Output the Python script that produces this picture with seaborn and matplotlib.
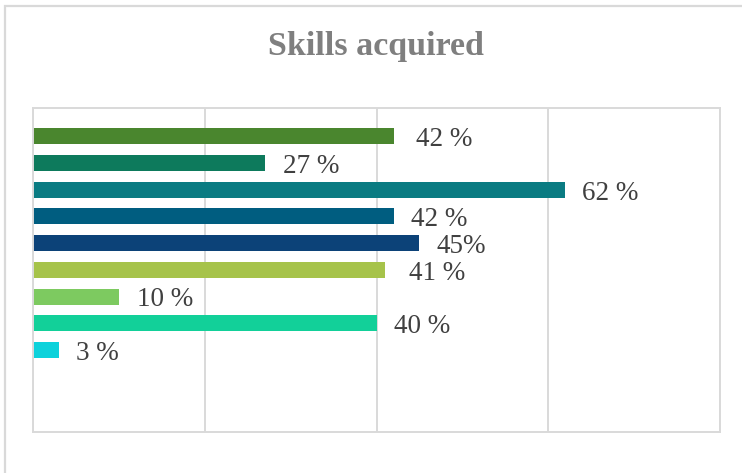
import matplotlib
matplotlib.use("Agg")
import matplotlib.pyplot as plt
import seaborn as sns
from matplotlib.patches import Rectangle

# chart data
skills = ["Skill 1", "Skill 2", "Skill 3", "Skill 4", "Skill 5",
          "Skill 6", "Skill 7", "Skill 8", "Skill 9"]
percent = [42, 27, 62, 42, 45, 41, 10, 40, 3]
value_labels = ["42 %", "27 %", "62 %", "42 %", "45%", "41 %", "10 %", "40 %", "3 %"]
x_ticks = [0, 20, 40, 60, 80]

bar_colors = ["#4A862E", "#0D7A5C", "#0A7B82", "#005D80", "#0C4278",
              "#A6C34A", "#7DCA60", "#12D099", "#0DD2DB"]
# extra gap (px) between bar end and its label, Excel labels were nudged by hand
label_gap = [22, 18, 17, 17, 17, 24, 18, 18, 17]

sns.set_theme(style="white")
plt.rcParams['font.family'] = ['Liberation Serif', 'DejaVu Serif']

fig = plt.figure(figsize=(7.42, 4.73), dpi=100)
ax = fig.add_axes([33 / 742, 1 - 431.7 / 473, (720 - 33) / 742, (431.7 - 107.7) / 473])

sns.barplot(x=percent, y=skills, hue=skills, palette=bar_colors, orient="h",
            width=0.6, legend=False, saturation=1, ax=ax, edgecolor="none")

ax.set_xlim(x_ticks[0], x_ticks[-1])
ax.set_ylim(11.06, -1.07)
ax.set_xticks(x_ticks)
ax.set_yticks([])
ax.tick_params(axis="x", length=0, labelbottom=False)
ax.set_xlabel("")
ax.set_ylabel("")
ax.grid(axis="x", color="#D9D9D9", linewidth=1.4)
ax.set_axisbelow(True)
for sp in ax.spines.values():
    sp.set_visible(True)
    sp.set_color("#D9D9D9")
    sp.set_linewidth(1.4)

px = (x_ticks[-1] - x_ticks[0]) / (720 - 33)
for i, (v, lab) in enumerate(zip(percent, value_labels)):
    ax.text(v + label_gap[i] * px, i + 0.37, lab, fontsize=19.5, color="#404040",
            va="baseline", ha="left")

fig.text(0.506, 1 - 55 / 473, "Skills acquired", ha="center", va="baseline",
         fontsize=24.5, fontweight="bold", color="#7F7F7F")

# outer chart frame (only left/top edges visible in the crop)
fig.patches.append(Rectangle((5 / 742, -0.1), 1.2, 1 - 6 / 473 + 0.1,
                             transform=fig.transFigure, fill=False,
                             edgecolor="#D9D9D9", linewidth=1.6))

fig.savefig("out.png", dpi=100)
